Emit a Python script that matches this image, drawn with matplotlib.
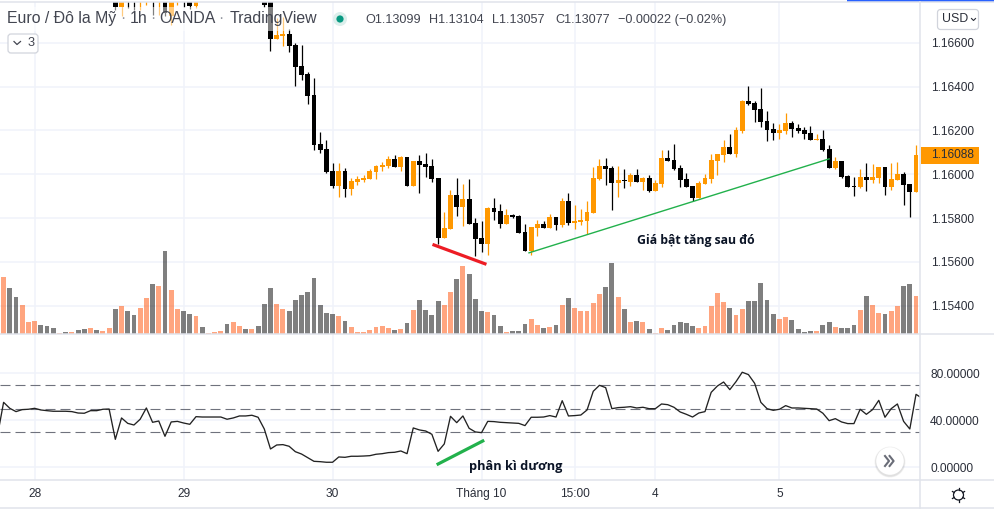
import numpy as np
import matplotlib
matplotlib.use('Agg')
import matplotlib.pyplot as plt
from matplotlib.patches import Circle, FancyBboxPatch, Rectangle

W, H = 995, 512
nan = float('nan')

# volume of every bar and its colour (o = up, g = down)
volume = [172, 139, 112, 88, 37, 40, 28, 25, 19, 4,
          7, 7, 13, 16, 19, 13, 10, 19, 76, 85,
          70, 58, 79, 109, 151, 145, 250, 133, 76, 70,
          61, 55, 22, 4, 7, 10, 31, 37, 25, 16,
          16, 25, 91, 139, 91, 76, 70, 103, 118, 127,
          169, 88, 64, 61, 55, 40, 22, 7, 7, 13,
          22, 25, 19, 13, 16, 34, 73, 103, 73, 58,
          100, 88, 127, 166, 205, 181, 106, 70, 67, 58,
          25, 7, 10, 10, 31, 46, 28, 19, 22, 28,
          88, 109, 79, 70, 70, 94, 121, 142, 214, 112,
          76, 37, 40, 37, 16, 4, 19, 13, 28, 37,
          34, 25, 19, 25, 85, 124, 97, 79, 58, 76,
          100, 100, 154, 103, 61, 46, 52, 43, 16, 7,
          10, 10, 28, 37, 22, 19, 19, 28, 73, 115,
          88, 64, 61, 70, 85, 145, 151, 115]
volume_side = ('oggooogggo' 'goggogoogo' 'ggoogogoog' 'gogooogoog'
               'ogggoogggg' 'ggggogoooo' 'ooogogoggg' 'googogggog'
               'gogggoogog' 'ogoooooggo' 'gogogooggg' 'ggooooogoo'
               'gggggooggg' 'goggogggog' 'oogooggo')

# candles start at bar 18, the earlier ones are above the visible range
candle_start = 18
candle_open = [1.16805, 1.16764, 1.16810, 1.16805, 1.16796, 1.16791, 1.16810, 1.16796, 1.16814, 1.16723,
               1.16791, 1.16810, 1.16805, 1.16769] + [nan] * 10 + [
               1.16805, 1.16796, 1.16618, 1.16632, 1.16641, 1.16591, 1.16495, 1.16458,
               1.16362, 1.16139, 1.16116, 1.16015, 1.15947, 1.16015, 1.15933, 1.15965, 1.15974, 1.15979,
               1.16011, 1.16034, 1.16038, 1.16070, 1.16034, 1.16079, 1.15947, 1.16061, 1.16047, 1.16038,
               1.15983, 1.15709, 1.15750, 1.15906, 1.15851, 1.15888, 1.15778, 1.15709, 1.15682, 1.15846,
               1.15833, 1.15773, 1.15814, 1.15810, 1.15737, 1.15650, 1.15755, 1.15773, 1.15755, 1.15805,
               1.15769, 1.15878, 1.15778, 1.15782, 1.15787, 1.15824, 1.15979, 1.16038, 1.16029, 1.15961,
               1.15974, 1.15965, 1.15997, 1.15965, 1.15983, 1.15924, 1.15956, 1.16075, 1.16066, 1.16029,
               1.15979, 1.15947, 1.15892, 1.15956, 1.15979, 1.16061, 1.16088, 1.16125, 1.16093, 1.16198,
               1.16335, 1.16326, 1.16298, 1.16243, 1.16207, 1.16189, 1.16198, 1.16234, 1.16212, 1.16202,
               1.16189, 1.16157, 1.16161, 1.16116, 1.16029, 1.16061, 1.15993, 1.15947, 1.15942, 1.15988,
               1.15974, 1.15983, 1.16034, 1.15942, 1.15974, 1.16002, 1.15956, 1.15919]
candle_high = [1.16819, 1.16842, 1.16823, 1.16823, 1.16823, 1.16814, 1.16828, 1.16814, 1.16833, 1.16833,
               1.16814, 1.16823, 1.16823, 1.16814] + [nan] * 10 + [
               1.16823, 1.16810, 1.16714, 1.16718, 1.16664, 1.16600, 1.16591, 1.16467,
               1.16440, 1.16193, 1.16157, 1.16052, 1.16052, 1.16029, 1.15983, 1.15993, 1.15997, 1.16025,
               1.16043, 1.16056, 1.16084, 1.16088, 1.16084, 1.16079, 1.16061, 1.16088, 1.16097, 1.16070,
               1.15983, 1.15828, 1.15929, 1.15983, 1.15956, 1.15979, 1.15801, 1.15787, 1.15851, 1.15892,
               1.15865, 1.15842, 1.15819, 1.15814, 1.15773, 1.15760, 1.15792, 1.15787, 1.15819, 1.15805,
               1.15892, 1.15915, 1.15860, 1.15842, 1.15878, 1.16034, 1.16070, 1.16075, 1.16038, 1.16038,
               1.16025, 1.16006, 1.16025, 1.15988, 1.15997, 1.15974, 1.16111, 1.16111, 1.16139, 1.16043,
               1.16006, 1.15947, 1.15970, 1.16002, 1.16093, 1.16093, 1.16157, 1.16184, 1.16216, 1.16339,
               1.16403, 1.16335, 1.16394, 1.16289, 1.16234, 1.16230, 1.16280, 1.16243, 1.16230, 1.16216,
               1.16221, 1.16184, 1.16202, 1.16134, 1.16079, 1.16061, 1.15997, 1.15988, 1.16025, 1.16052,
               1.16047, 1.16034, 1.16034, 1.16052, 1.16056, 1.16011, 1.15956, 1.16134]
candle_low = [1.16750, 1.16723, 1.16759, 1.16750, 1.16750, 1.16773, 1.16727, 1.16727, 1.16723, 1.16682,
              1.16773, 1.16764, 1.16755, 1.16759] + [nan] * 10 + [
              1.16764, 1.16563, 1.16618, 1.16586, 1.16559, 1.16403, 1.16431, 1.16321,
              1.16111, 1.16097, 1.16006, 1.15938, 1.15897, 1.15897, 1.15906, 1.15951, 1.15965, 1.15979,
              1.15979, 1.16015, 1.16029, 1.16034, 1.16015, 1.15947, 1.15947, 1.15915, 1.15988, 1.15965,
              1.15682, 1.15709, 1.15750, 1.15810, 1.15764, 1.15773, 1.15627, 1.15645, 1.15632, 1.15792,
              1.15755, 1.15773, 1.15801, 1.15732, 1.15650, 1.15632, 1.15718, 1.15755, 1.15755, 1.15746,
              1.15760, 1.15769, 1.15750, 1.15769, 1.15728, 1.15824, 1.15974, 1.15951, 1.15837, 1.15897,
              1.15938, 1.15947, 1.15965, 1.15929, 1.15919, 1.15924, 1.15942, 1.16061, 1.16020, 1.15942,
              1.15942, 1.15878, 1.15892, 1.15956, 1.15961, 1.15997, 1.16056, 1.16093, 1.16079, 1.16189,
              1.16317, 1.16239, 1.16216, 1.16152, 1.16157, 1.16161, 1.16184, 1.16170, 1.16189, 1.16161,
              1.16157, 1.16157, 1.16107, 1.16029, 1.16025, 1.15983, 1.15942, 1.15901, 1.15938, 1.15924,
              1.15961, 1.15961, 1.15906, 1.15929, 1.15974, 1.15860, 1.15805, 1.15919]
candle_close = [1.16764, 1.16801, 1.16801, 1.16796, 1.16810, 1.16801, 1.16801, 1.16810, 1.16737, 1.16810,
                1.16801, 1.16796, 1.16769, 1.16801] + [nan] * 10 + [
                1.16773, 1.16618, 1.16636, 1.16641, 1.16586, 1.16490, 1.16454, 1.16358,
                1.16134, 1.16111, 1.16011, 1.15947, 1.16015, 1.15933, 1.15970, 1.15979, 1.15983, 1.16015,
                1.16038, 1.16043, 1.16070, 1.16034, 1.16079, 1.15947, 1.16061, 1.16043, 1.16034, 1.15979,
                1.15709, 1.15755, 1.15906, 1.15851, 1.15888, 1.15773, 1.15705, 1.15682, 1.15846, 1.15828,
                1.15773, 1.15814, 1.15805, 1.15732, 1.15650, 1.15760, 1.15773, 1.15755, 1.15805, 1.15769,
                1.15878, 1.15778, 1.15787, 1.15792, 1.15828, 1.15983, 1.16038, 1.16025, 1.15961, 1.15974,
                1.15970, 1.15997, 1.15965, 1.15983, 1.15924, 1.15961, 1.16075, 1.16061, 1.16025, 1.15974,
                1.15942, 1.15892, 1.15961, 1.15983, 1.16066, 1.16093, 1.16125, 1.16093, 1.16202, 1.16335,
                1.16321, 1.16294, 1.16239, 1.16202, 1.16189, 1.16202, 1.16234, 1.16207, 1.16198, 1.16184,
                1.16157, 1.16161, 1.16111, 1.16029, 1.16061, 1.15988, 1.15942, 1.15942, 1.15988, 1.15974,
                1.15988, 1.16034, 1.15942, 1.15979, 1.16002, 1.15951, 1.15919, 1.16088]

# oscillator, one value before bar 0 and one after the last candle
rsi = [26.7,
       55.3, 50.2, 47.4, 49.1, 49.4, 50.2, 48.8, 48.2, 47.7, 47.7,
       47.7, 47.4, 46.2, 46.0, 48.2, 48.2, 49.4, 49.6, 23.8, 42.0,
       37.4, 36.0, 40.9, 50.5, 38.3, 39.4, 26.4, 38.6, 39.1, 37.7,
       36.6, 43.1, 42.8, 42.8, 42.8, 42.8, 40.9, 42.0, 43.7, 43.7,
       44.3, 42.6, 32.6, 15.6, 19.0, 19.3, 17.9, 13.3, 11.3, 8.2,
       5.1, 4.8, 4.3, 4.3, 8.8, 8.5, 9.4, 9.4, 9.6, 9.9,
       11.1, 11.6, 12.5, 12.8, 13.9, 11.6, 33.5, 31.8, 30.9, 28.1,
       13.6, 19.9, 43.4, 38.0, 43.7, 33.2, 30.1, 29.5, 39.1, 38.9,
       38.3, 38.0, 37.7, 37.4, 35.5, 42.6, 42.6, 42.8, 44.0, 42.8,
       56.7, 43.7, 44.0, 44.5, 48.8, 64.7, 69.8, 67.8, 49.9, 50.8,
       51.1, 51.6, 50.5, 51.1, 49.9, 49.9, 53.9, 53.3, 51.1, 47.1,
       45.1, 42.8, 46.2, 47.4, 63.8, 69.2, 72.6, 66.1, 72.9, 80.9,
       78.9, 71.5, 55.3, 49.9, 48.5, 49.4, 52.5, 50.5, 50.5, 50.2,
       49.9, 49.6, 46.0, 39.7, 41.4, 38.6, 37.2, 37.2, 49.4, 45.1,
       49.1, 57.0, 42.6, 49.9, 53.9, 39.1, 32.6, 62.1, 58.7]
rsi_levels = [70, 50, 30]

price_ticks = [1.154, 1.156, 1.158, 1.160, 1.162, 1.164, 1.166]
rsi_ticks = [0, 40, 80]
time_ticks = [5, 29, 53, 77, 92, 105, 125]
time_labels = ['28', '29', '30', 'Tháng 10', '15:00', '4', '5']
last_price = 1.16088

# hand drawn annotations (bar, value)
trend_bars, trend_prices = [84.65, 133], [1.15641, 1.16070]
red_bars, red_prices = [69.34, 77.55], [1.15677, 1.15591]
div_bars, div_rsi = [70, 77.2], [2.8, 22.4]

UP = '#ff9800'
DOWN = '#000000'
GRID = '#f0f3fa'
BORDER = '#e0e3eb'
TEXT = '#2a2e39'
FONT = 'Liberation Sans'

plt.rcParams['font.family'] = FONT


def px_axes(fig, left, top, right, bottom, **kw):
    return fig.add_axes([left / W, 1 - bottom / H, (right - left) / W, (bottom - top) / H], **kw)


fig = plt.figure(figsize=(W / 100, H / 100), dpi=100, facecolor='white')
ax_price = px_axes(fig, 0, 2.3, 920.3, 334.3, zorder=1)
ax_vol = px_axes(fig, 0, 2.3, 920.3, 334.3, zorder=2, facecolor='none')
ax_rsi = px_axes(fig, 0, 334.3, 920.3, 480.3, zorder=1)
ax_top = px_axes(fig, 0, 0, W, H, zorder=5, facecolor='none')

xlim = (-0.58, 147.69)

# candles
opens = np.array(candle_open)
highs = np.array(candle_high)
lows = np.array(candle_low)
closes = np.array(candle_close)
bars = np.arange(len(opens)) + candle_start
colors = [UP if c >= o else DOWN for o, c in zip(opens, closes)]
ax_price.vlines(bars, lows, highs, colors=colors, linewidth=0.9, zorder=3)
ax_price.bar(bars, np.abs(closes - opens), bottom=np.minimum(opens, closes), width=0.78,
             color=colors, linewidth=0, zorder=4)
ax_price.plot(trend_bars, trend_prices, color='#22b14c', linewidth=1.0, zorder=5)
ax_price.plot(red_bars, red_prices, color='#ed1c24', linewidth=2.3, zorder=5)
ax_price.text(102, 1.15696, 'Giá bật tăng sau đó', family='Open Sans', weight='bold', fontsize=8.8,
              color='#0b1426', va='center', ha='left', zorder=6)
ax_price.set_xlim(xlim)
ax_price.set_ylim(1.15269, 1.16785)
ax_price.set_yticks(price_ticks)
ax_price.set_yticklabels(['%.5f' % t for t in price_ticks])
ax_price.set_xticks(time_ticks)
ax_price.tick_params(axis='x', length=0, labelbottom=False)
ax_price.yaxis.tick_right()
ax_price.tick_params(axis='y', length=0, pad=7.4, labelsize=8.6, labelcolor=TEXT)
ax_price.grid(True, color=GRID, linewidth=1.1, zorder=0)
ax_price.set_axisbelow(True)
for s in ax_price.spines.values():
    s.set_visible(False)

# volume sits on its own scale at the bottom of the price pane
vol_colors = ['#ff4d00' if s == 'o' else '#000000' for s in volume_side]
ax_vol.bar(np.arange(len(volume)), volume, width=0.78, color=vol_colors, alpha=0.5, linewidth=0)
ax_vol.set_xlim(xlim)
ax_vol.set_ylim(0, 996)
ax_vol.axis('off')

# oscillator
ax_rsi.plot(np.arange(len(rsi)) - 1, rsi, color='#222222', linewidth=0.95, zorder=4)
for level in rsi_levels:
    ax_rsi.axhline(level, color='#6f727d', linewidth=0.8, dashes=(9, 4.5), zorder=3)
ax_rsi.plot(div_bars, div_rsi, color='#22b14c', linewidth=2.3, zorder=5)
ax_rsi.text(75, 1.1, 'phân kì dương', family='Open Sans', weight='bold', fontsize=9.2,
            color='#0b1426', va='center', ha='left', zorder=6)
ax_rsi.set_xlim(xlim)
ax_rsi.set_ylim(-11.06, 113.2)
ax_rsi.set_xticks(time_ticks)
ax_rsi.set_xticklabels(time_labels)
ax_rsi.set_yticks(rsi_ticks)
ax_rsi.set_yticklabels(['%.5f' % t for t in rsi_ticks])
ax_rsi.yaxis.tick_right()
ax_rsi.tick_params(axis='y', length=0, pad=7.0, labelsize=8.6, labelcolor=TEXT)
ax_rsi.tick_params(axis='x', length=0, pad=5.5, labelsize=8.6, labelcolor=TEXT)
ax_rsi.grid(True, color=GRID, linewidth=1.1, zorder=0)
ax_rsi.set_axisbelow(True)
for s in ax_rsi.spines.values():
    s.set_visible(False)

# page furniture, drawn in pixels
ax_top.set_xlim(0, W)
ax_top.set_ylim(H, 0)
ax_top.axis('off')
for y in [2.3, 334.3, 480.3, 508.3]:
    ax_top.plot([0, W], [y, y], color=BORDER, linewidth=1.1)
ax_top.plot([920.3, 920.3], [2.3, 508.3], color=BORDER, linewidth=1.1)
ax_top.add_patch(Rectangle((847, 0), 148, 2.2, color='#2962ff', linewidth=0))

# legend strip dims what is under it
ax_top.add_patch(Rectangle((0, 7), 322, 24, facecolor='white', alpha=0.5, linewidth=0))
for x, s in [(7, 'Euro / Đô la Mỹ'), (130, '1h'), (159, 'OANDA'), (229.5, 'TradingView')]:
    ax_top.text(x, 18.5, s, fontsize=11.45, color='#434651', va='center', ha='left')
for x in [123, 153, 221]:
    ax_top.text(x, 18.5, '·', fontsize=11.45, color='#9598a1', va='center', ha='center')
ax_top.add_patch(Circle((340, 19), 7, color='#dcefec', linewidth=0))
ax_top.add_patch(Circle((340, 19), 3.6, color='#089981', linewidth=0))
for x, s in [(365, 'O1.13099'), (429.5, 'H1.13104'), (492, 'L1.13057'), (555, 'C1.13077'),
             (617.5, '−0.00022 (−0.02%)')]:
    ax_top.text(x, 20, s, fontsize=9.1, color='#434651', va='center', ha='left')

# collapse button
ax_top.add_patch(FancyBboxPatch((8, 34), 30, 19, boxstyle='round,pad=0,rounding_size=3',
                                facecolor='white', edgecolor='#d1d4dc', linewidth=0.9))
ax_top.plot([14, 17, 20.5], [41.5, 44.5, 41.5], color='#434651', linewidth=0.9)
ax_top.text(27.5, 43.5, '3', fontsize=9.2, color='#434651', va='center', ha='left')

# currency button
ax_top.add_patch(FancyBboxPatch((937.5, 9.5), 41, 20, boxstyle='round,pad=0,rounding_size=3',
                                facecolor='white', edgecolor='#d1d4dc', linewidth=0.9))
ax_top.text(942, 19.5, 'USD', fontsize=8.9, color=TEXT, va='center', ha='left')
ax_top.plot([971.5, 973.5, 975.5], [18.5, 20.5, 18.5], color=TEXT, linewidth=0.8)

# last price tag
ax_top.add_patch(Rectangle((920.5, 147), 58.5, 16.7, color=UP, linewidth=0))
ax_top.text(931, 155.5, '%.5f' % last_price, fontsize=8.6, color=TEXT, va='center', ha='left')

# scroll button
for r, a in [(15.5, 0.05), (14.8, 0.07)]:
    ax_top.add_patch(Circle((890, 462), r, color='black', alpha=a, linewidth=0))
ax_top.add_patch(Circle((890, 461), 13.8, color='white', linewidth=0))
for dx in [0, 4.6]:
    ax_top.plot([885 + dx, 889 + dx, 885 + dx], [456, 461, 466], color='#6a6d78', linewidth=1.5)

# settings gear
ax_top.add_patch(Circle((958.5, 495), 5, facecolor='none', edgecolor='#131722', linewidth=0.9))
for a in np.arange(0, 360, 60) + 30:
    c, s = np.cos(np.radians(a)), np.sin(np.radians(a))
    ax_top.plot([958.5 + 5 * c, 958.5 + 7 * c], [495 + 5 * s, 495 + 7 * s], color='#131722', linewidth=0.9)

fig.savefig('out.png', dpi=100)
